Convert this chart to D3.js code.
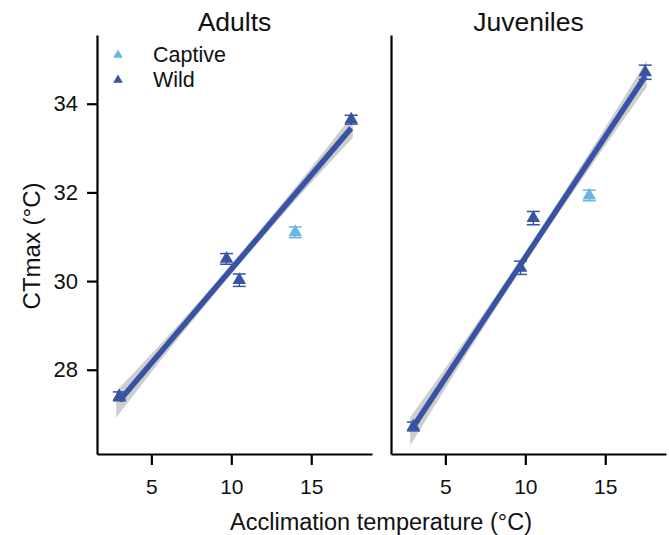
<!DOCTYPE html>
<html lang="en">
<head>
  <meta charset="UTF-8">
  <title>CTmax vs acclimation temperature</title>
  <style>
    body { margin: 0; background: #fff; }
    text { font-family: "Liberation Sans", Arial, sans-serif; fill: #111; }
  </style>
</head>
<body>
  <script src="https://d3js.org/d3.v7.min.js"></script>
  <svg id="chart" width="669" height="535"></svg>
  <script>
    // values
    const panels = ["Adults", "Juveniles"];
    const groups = ["Captive", "Wild"];
    const temps = [3, 9.7, 10.5, 14, 17.5];
    const origin = ["Wild", "Wild", "Wild", "Captive", "Wild"];
    const adultMean = [27.4, 30.5, 30.02, 31.1, 33.64];
    const adultSE = [0.1, 0.12, 0.14, 0.12, 0.1];
    const juvMean = [26.72, 30.3, 31.42, 31.93, 34.71];
    const juvSE = [0.1, 0.15, 0.15, 0.12, 0.16];

    // fitted line (ends) and ribbon half widths
    const fitX = [3, 17.5];
    const adultFit = [27.3, 33.45];
    const juvFit = [26.72, 34.62];
    const ribbonX = [2.8, 6.5, 10.2, 14, 17.6];
    const adultBand = [0.3, 0.16, 0.11, 0.15, 0.26];
    const juvBand = [0.32, 0.18, 0.12, 0.18, 0.3];

    const yTicks = [28, 30, 32, 34];
    const xTicks = [5, 10, 15];

    const colors = { Captive: "#6cb4e4", Wild: "#3953a4" };
    const font = "Liberation Sans, Arial, sans-serif";

    const svg = d3.select("#chart");

    const y = d3.scaleLinear().domain([26.1, 35.55]).range([454, 35]);
    const xScales = [
      d3.scaleLinear().domain([1.6, 18.8]).range([97, 372]),
      d3.scaleLinear().domain([1.6, 18.8]).range([391, 666])
    ];
    const means = [adultMean, juvMean];
    const ses = [adultSE, juvSE];
    const fits = [adultFit, juvFit];
    const bands = [adultBand, juvBand];

    panels.forEach(function (name, p) {
      const x = xScales[p];
      const g = svg.append("g");

      // confidence ribbon
      const lineAt = function (t) {
        const f = fits[p];
        return f[0] + (f[1] - f[0]) * (t - fitX[0]) / (fitX[1] - fitX[0]);
      };
      const band = ribbonX.map((t, i) => ({ t: t, lo: lineAt(t) - bands[p][i], hi: lineAt(t) + bands[p][i] }));
      g.append("path")
        .datum(band)
        .attr("d", d3.area().curve(d3.curveMonotoneX)
          .x(d => x(d.t)).y0(d => y(d.lo)).y1(d => y(d.hi)))
        .attr("fill", "#bdbdbd")
        .attr("opacity", 0.75);

      // fitted line
      g.append("line")
        .attr("x1", x(fitX[0])).attr("y1", y(fits[p][0]))
        .attr("x2", x(fitX[1])).attr("y2", y(fits[p][1]))
        .attr("stroke", "#3953a4")
        .attr("stroke-width", 5.5);

      // error bars and points
      temps.forEach(function (t, i) {
        const c = colors[origin[i]];
        const m = means[p][i], s = ses[p][i];
        const cx = x(t);
        g.append("line")
          .attr("x1", cx).attr("x2", cx)
          .attr("y1", y(m - s)).attr("y2", y(m + s))
          .attr("stroke", c).attr("stroke-width", 1.5);
        [m - s, m + s].forEach(function (v) {
          g.append("line")
            .attr("x1", cx - 6.5).attr("x2", cx + 6.5)
            .attr("y1", y(v)).attr("y2", y(v))
            .attr("stroke", c).attr("stroke-width", 1.5);
        });
        g.append("path")
          .attr("d", d3.symbol(d3.symbolTriangle, 80)())
          .attr("transform", "translate(" + cx + "," + y(m) + ")")
          .attr("fill", c);
      });

      // axes
      const xAxis = g.append("g")
        .attr("transform", "translate(0,454)")
        .call(d3.axisBottom(x).tickValues(xTicks).tickSize(11).tickSizeOuter(0).tickPadding(14));
      xAxis.select(".domain").attr("stroke-width", 2.2);
      xAxis.selectAll(".tick line").attr("stroke-width", 2.2);
      xAxis.selectAll("text").attr("font-size", 21).style("font-family", font);

      const yAxis = g.append("g")
        .attr("transform", "translate(" + x.range()[0] + ",0)")
        .call(d3.axisLeft(y).tickValues(p === 0 ? yTicks : []).tickSize(10).tickSizeOuter(0).tickPadding(9));
      yAxis.select(".domain").attr("stroke-width", 2.2);
      yAxis.selectAll(".tick line").attr("stroke-width", 2.2);
      yAxis.selectAll("text").attr("font-size", 22).style("font-family", font);

      // panel title
      svg.append("text")
        .attr("x", (x.range()[0] + x.range()[1]) / 2)
        .attr("y", 31)
        .attr("text-anchor", "middle")
        .attr("font-size", 26.5)
        .text(name);
    });

    // legend
    groups.forEach(function (gName, i) {
      const ly = 55 + i * 25;
      svg.append("path")
        .attr("d", d3.symbol(d3.symbolTriangle, 40)())
        .attr("transform", "translate(118," + ly + ")")
        .attr("fill", colors[gName]);
      svg.append("text")
        .attr("x", 153)
        .attr("y", ly + 7)
        .attr("font-size", 21.5)
        .text(gName);
    });

    // axis titles
    svg.append("text")
      .attr("x", 381)
      .attr("y", 530)
      .attr("text-anchor", "middle")
      .attr("font-size", 23.5)
      .text("Acclimation temperature (°C)");

    svg.append("text")
      .attr("transform", "rotate(-90)")
      .attr("x", -246)
      .attr("y", 40)
      .attr("text-anchor", "middle")
      .attr("font-size", 24)
      .text("CTmax (°C)");
  </script>
</body>
</html>
